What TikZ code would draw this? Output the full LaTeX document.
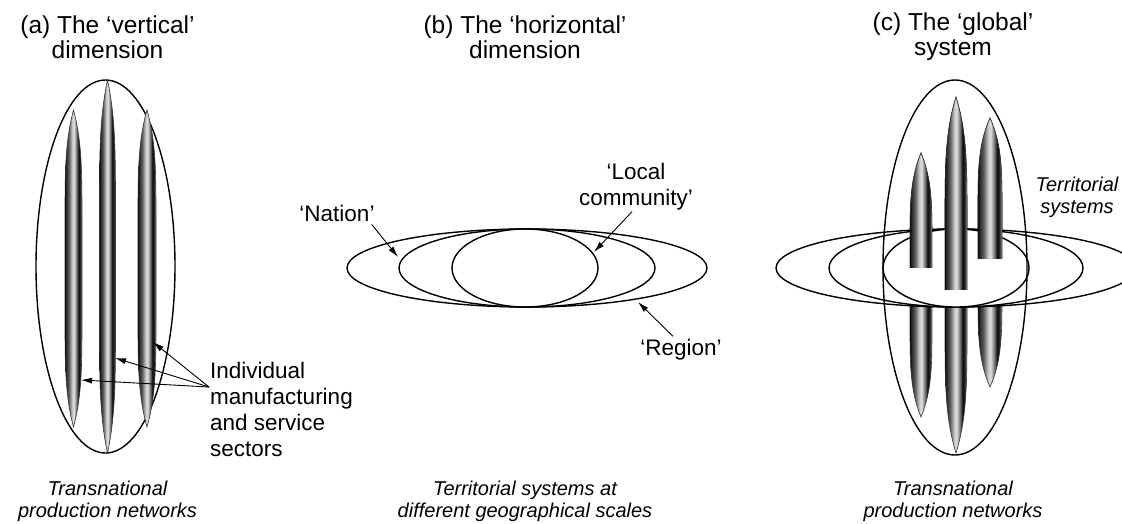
\documentclass[tikz,border=0pt]{standalone}
\usepackage{fontspec}
\setmainfont{Liberation Sans}
\usetikzlibrary{positioning,arrows.meta}
\pgfdeclarehorizontalshading{rodshade}{100bp}{color(0bp)=(black); color(25bp)=(black); color(28bp)=(black!85); color(36bp)=(black!65); color(46bp)=(black!22); color(51bp)=(black!12); color(59bp)=(black!55); color(65bp)=(black!95); color(70bp)=(black!85); color(73bp)=(black!45); color(75bp)=(black!60); color(100bp)=(black!60)}
\newcommand{\rodpath}[4]{% x, top, bottom, half width
  (#1,#2) .. controls ({#1+#4},{#2+0.10*(#3-#2)}) and ({#1+#4},{#2+0.2*(#3-#2)}) .. ({#1+#4},{#2+0.35*(#3-#2)})
  -- ({#1+#4},{#3-0.35*(#3-#2)}) .. controls ({#1+#4},{#3-0.2*(#3-#2)}) and ({#1+#4},{#3-0.10*(#3-#2)}) .. (#1,#3)
  .. controls ({#1-#4},{#3-0.10*(#3-#2)}) and ({#1-#4},{#3-0.2*(#3-#2)}) .. ({#1-#4},{#3-0.35*(#3-#2)})
  -- ({#1-#4},{#2+0.35*(#3-#2)}) .. controls ({#1-#4},{#2+0.2*(#3-#2)}) and ({#1-#4},{#2+0.10*(#3-#2)}) .. cycle}
\tikzset{
  ring/.style={draw, line width=1.4pt},
  whitering/.style={draw, fill=white, line width=1.4pt},
  rod/.style={shading=rodshade, draw=black!80, line width=0.6pt},
  ptr/.style={-{Latex[length=11pt, width=6pt]}, line width=0.9pt},
  heading/.style={font=\fontsize{24.5}{25}\selectfont, align=center, inner sep=0pt},
  caption/.style={font=\fontsize{20}{22}\selectfont\itshape, align=center, inner sep=0pt},
  lbl/.style={font=\fontsize{22.5}{26}\selectfont, inner sep=1pt}
}

\begin{document}
\begin{tikzpicture}[x=1pt, y=-1pt]
  \useasboundingbox[fill=white] (0,0) rectangle (1122,524);

  % (a) vertical dimension
  \node[heading] (titlea) at (107.5,37) {(a) The ‘vertical’\\dimension};
  \draw[ring] (105.5,266.5) ellipse [x radius=69.5, y radius=186.5];
  \path[rod] \rodpath{73.5}{110}{427}{8.5};
  \path[rod] \rodpath{107.5}{80}{453}{8};
  \path[rod] \rodpath{147}{110}{427}{9};
  \node[lbl, align=left, anchor=west] (sectors) at (209,409) {Individual\\manufacturing\\and service\\sectors};
  \coordinate (tipaL) at (81,380);
  \coordinate (tipaM) at (115,358);
  \coordinate (tipaR) at (153,342);
  \draw[ptr] ([yshift=22pt]sectors.west) -- (tipaL);
  \draw[ptr] ([yshift=22pt]sectors.west) -- (tipaM);
  \draw[ptr] ([yshift=22pt]sectors.west) -- (tipaR);
  \node[caption] (capa) at (107.5,501) {Transnational\\production networks};

  % (b) horizontal dimension
  \node[heading] (titleb) at (525,37) {(b) The ‘horizontal’\\dimension};
  \draw[ring] (527,268) ellipse [x radius=180, y radius=39];
  \draw[ring] (527,268) ellipse [x radius=128, y radius=39];
  \draw[ring] (525,268) ellipse [x radius=73, y radius=39];
  \node[lbl] (nation) at (337,213) {‘Nation’};
  \node[lbl, align=center] (local) at (636,187) {‘Local\\community’};
  \node[lbl] (region) at (681,350) {‘Region’};
  \coordinate (tipnation) at (398,257);
  \coordinate (tiplocal) at (594,252);
  \coordinate (tipregion) at (638,302);
  \draw[ptr] ([xshift=-4pt, yshift=-2pt]nation.south east) -- (tipnation);
  \draw[ptr] ([xshift=-4pt]local.south) -- (tiplocal);
  \draw[ptr] ([xshift=-8pt, yshift=2pt]region.north) -- (tipregion);
  \node[caption] (capb) at (525,501) {Territorial systems at\\different geographical scales};

  % (c) global system
  \node[heading] (titlec) at (953,37) {(c) The ‘global’\\system};
  \path[rod] \rodpath{921}{153}{417}{11};
  \path[rod] \rodpath{956}{97}{453}{11};
  \path[rod] \rodpath{990}{118}{387}{12};
  \draw[whitering] (956,268) ellipse [x radius=180, y radius=39];
  \draw[whitering] (956,268) ellipse [x radius=127, y radius=39];
  \draw[whitering] (956,268) ellipse [x radius=73, y radius=39];
  \begin{scope}
    \clip (900,100) rectangle (940,267);
    \path[rod] \rodpath{921}{153}{417}{11};
  \end{scope}
  \begin{scope}
    \clip (935,80) rectangle (975,289);
    \path[rod] \rodpath{956}{97}{453}{11};
  \end{scope}
  \begin{scope}
    \clip (970,100) rectangle (1010,258);
    \path[rod] \rodpath{990}{118}{387}{12};
  \end{scope}
  \draw[ring] (955,267.5) ellipse [x radius=72, y radius=187.5];
  \node[caption] (terr) at (1077,197) {Territorial\\systems};
  \node[caption] (capc) at (953,501) {Transnational\\production networks};
\end{tikzpicture}
\end{document}
